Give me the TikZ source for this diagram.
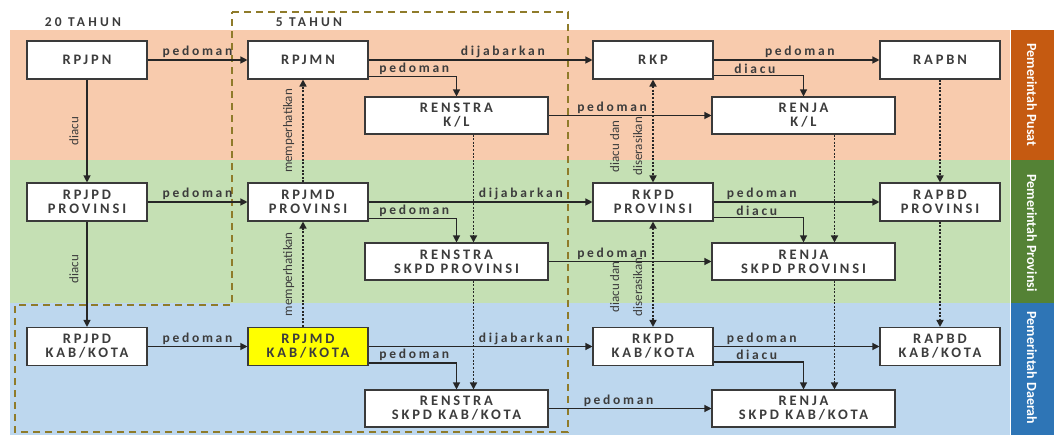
\documentclass[tikz,border=0pt]{standalone}
\usepackage{fontspec}
\setmainfont{Carlito}
\newfontfamily\spc{Carlito}[LetterSpace=20]
\newfontfamily\spch{Carlito}[LetterSpace=24]
\usetikzlibrary{arrows.meta,calc}
\definecolor{peach}{HTML}{F8CBAD}
\definecolor{mint}{HTML}{C5E0B4}
\definecolor{sky}{HTML}{BDD7EE}
\definecolor{sideO}{HTML}{C55A11}
\definecolor{sideG}{HTML}{548235}
\definecolor{sideB}{HTML}{2E75B6}
\definecolor{txt}{HTML}{3C3C3C}
\definecolor{lin}{HTML}{262626}
\definecolor{boxline}{HTML}{3A3A3A}
\definecolor{dboxc}{HTML}{8F7B2A}
\definecolor{hilite}{HTML}{FFFF00}
\begin{document}
\begin{tikzpicture}[x=1pt,y=-1pt,
  box/.style={draw=boxline, line width=1.1pt, fill=white, minimum width=120pt,
    minimum height=38pt, inner sep=1pt, align=center,
    font=\spc\bfseries\fontsize{14.5}{14}\selectfont, text=txt},
  wbox/.style={box, minimum width=183pt, minimum height=37pt},
  arr/.style={draw=lin, line width=1.2pt, -{Triangle[length=7pt,width=7pt]}},
  dotarr/.style={draw=lin, line width=1.6pt, dash pattern=on 2pt off 1.6pt,
    -{Triangle[length=7pt,width=7pt]}},
  dotboth/.style={dotarr, {Triangle[length=7pt,width=7pt]}-{Triangle[length=7pt,width=7pt]}},
  lbl/.style={font=\spc\bfseries\fontsize{13.5}{14}\selectfont, text=txt, inner sep=1.5pt},
  vlbl/.style={font=\fontsize{13}{14}\selectfont, text=txt, rotate=90, anchor=south, inner sep=8pt},
  side/.style={font=\bfseries\fontsize{14}{14}\selectfont, text=white, rotate=-90},
  hdr/.style={font=\spch\bfseries\fontsize{13.5}{14}\selectfont, text=txt},
  dbox/.style={draw=dboxc, line width=2pt, dash pattern=on 7pt off 5pt}
]
\useasboundingbox (0,0) rectangle (1054,435);
% bands
\fill[peach] (10,30) rectangle (1010,160);
\fill[mint] (10,160) rectangle (1010,303);
\fill[sky] (10,303) rectangle (1010,435);
\fill[sideO] (1011,30) rectangle (1054,160);
\fill[sideG] (1011,160) rectangle (1054,303);
\fill[sideB] (1011,303) rectangle (1054,435);
\node[side] (sp) at (1032,95) {Pemerintah Pusat};
\node[side] (sv) at (1032,233) {Pemerintah Provinsi};
\node[side] (sd) at (1032,368) {Pemerintah Daerah};
% headers
\node[hdr] (h20) at (83,22) {20 TAHUN};
\node[hdr] (h5) at (309,22) {5 TAHUN};
% 5-year frame
\draw[dbox] (232,12) -- (568,12) -- (568,432) -- (15,432) -- (15,305) -- (232,305) -- cycle;
% boxes
\node[box] (rpjpn) at (87,60) {RPJPN};
\node[box] (rpjmn) at (308,60) {RPJMN};
\node[box] (rkp) at (653,60) {RKP};
\node[box] (rapbn) at (940,60) {RAPBN};
\node[wbox] (rkl) at (456.5,115.5) {RENSTRA\\K/L};
\node[wbox] (rjkl) at (803.5,115.5) {RENJA\\K/L};
\node[box] (rpjpdp) at (87,202) {RPJPD\\PROVINSI};
\node[box] (rpjmdp) at (308,202) {RPJMD\\PROVINSI};
\node[box] (rkpdp) at (653,202) {RKPD\\PROVINSI};
\node[box] (rapbdp) at (940,202) {RAPBD\\PROVINSI};
\node[wbox] (rsp) at (456.5,261.5) {RENSTRA\\SKPD PROVINSI};
\node[wbox] (rjp) at (803.5,261.5) {RENJA\\SKPD PROVINSI};
\node[box] (rpjpdk) at (87,346.5) {RPJPD\\KAB/KOTA};
\node[box, fill=hilite] (rpjmdk) at (308,346.5) {RPJMD\\KAB/KOTA};
\node[box] (rkpdk) at (653,346.5) {RKPD\\KAB/KOTA};
\node[box] (rapbdk) at (940,346.5) {RAPBD\\KAB/KOTA};
\node[wbox] (rsk) at (456.5,408.5) {RENSTRA\\SKPD KAB/KOTA};
\node[wbox] (rjk) at (803.5,408.5) {RENJA\\SKPD KAB/KOTA};
% left column
\draw[arr] (rpjpn) -- node[vlbl]{diacu} (rpjpdp);
\draw[arr] (rpjpdp) -- node[vlbl,pos=0.45]{diacu} (rpjpdk);
\draw[arr] (rpjpn) -- node[lbl,above]{pedoman} (rpjmn);
\draw[arr] (rpjpdp) -- node[lbl,above]{pedoman} (rpjmdp);
\draw[arr] (rpjpdk) -- node[lbl,above]{pedoman} (rpjmdk);
% memperhatikan
\draw[dotarr] ([xshift=-5pt]rpjmdp.north) -- node[vlbl]{memperhatikan} ([xshift=-5pt]rpjmn.south);
\draw[dotarr] ([xshift=-5pt]rpjmdk.north) -- node[vlbl]{memperhatikan} ([xshift=-5pt]rpjmdp.south);
% top band
\draw[arr] (rpjmn) -- node[lbl,above,pos=0.6]{dijabarkan} (rkp);
\draw[arr] ([yshift=3pt]rpjmn.south east) -| node[lbl,above,pos=0.26]{pedoman} (rkl.north);
\draw[arr] (rkl) -- node[lbl,above,pos=0.39]{pedoman} (rjkl);
\draw[arr] (rkp) -- node[lbl,above,pos=0.52]{pedoman} (rapbn);
\draw[arr] ([yshift=4pt]rkp.south east) -| node[lbl,above,pos=0.23]{diacu} (rjkl.north);
% province band
\draw[arr] (rpjmdp) -- node[lbl,above,pos=0.68]{dijabarkan} (rkpdp);
\draw[arr] ([yshift=3pt]rpjmdp.south east) -| node[lbl,above,pos=0.26]{pedoman} (rsp.north);
\draw[arr] (rsp) -- node[lbl,above,pos=0.39]{pedoman} (rjp);
\draw[arr] (rkpdp) -- node[lbl,above,pos=0.29]{pedoman} (rapbdp);
\draw[arr] ([yshift=4pt]rkpdp.south east) -| node[lbl,above,pos=0.24]{diacu} (rjp.north);
% district band
\draw[arr] (rpjmdk) -- node[lbl,above,pos=0.68]{dijabarkan} (rkpdk);
\draw[arr] ([yshift=3pt]rpjmdk.south east) -| node[lbl,above,pos=0.26]{pedoman} (rsk.north);
\draw[arr] (rsk) -- node[lbl,above,pos=0.43]{pedoman} (rjk);
\draw[arr] (rkpdk) -- node[lbl,above,pos=0.29]{pedoman} (rapbdk);
\draw[arr] ([yshift=4pt]rkpdk.south east) -| node[lbl,above,pos=0.24]{diacu} (rjk.north);
% dotted verticals
\draw[dotboth] (rkp) -- node[vlbl,pos=0.65,align=center,inner sep=10pt]{diacu dan\\[9pt]diserasikan} (rkpdp);
\draw[dotboth] (rkpdp) -- node[vlbl,pos=0.62,align=center,inner sep=10pt]{diacu dan\\[9pt]diserasikan} (rkpdk);
\draw[dotarr] (rapbn) -- (rapbdp);
\draw[dotarr] (rapbdp) -- (rapbdk);
\draw[dotarr] ([xshift=17pt]rkl.south) -- ([xshift=17pt]rsp.north);
\draw[dotarr] ([xshift=17pt]rsp.south) -- ([xshift=17pt]rsk.north);
\draw[dotarr] ([xshift=31pt]rjkl.south) -- ([xshift=31pt]rjp.north);
\draw[dotarr] ([xshift=31pt]rjp.south) -- ([xshift=31pt]rjk.north);
\end{tikzpicture}
\end{document}
